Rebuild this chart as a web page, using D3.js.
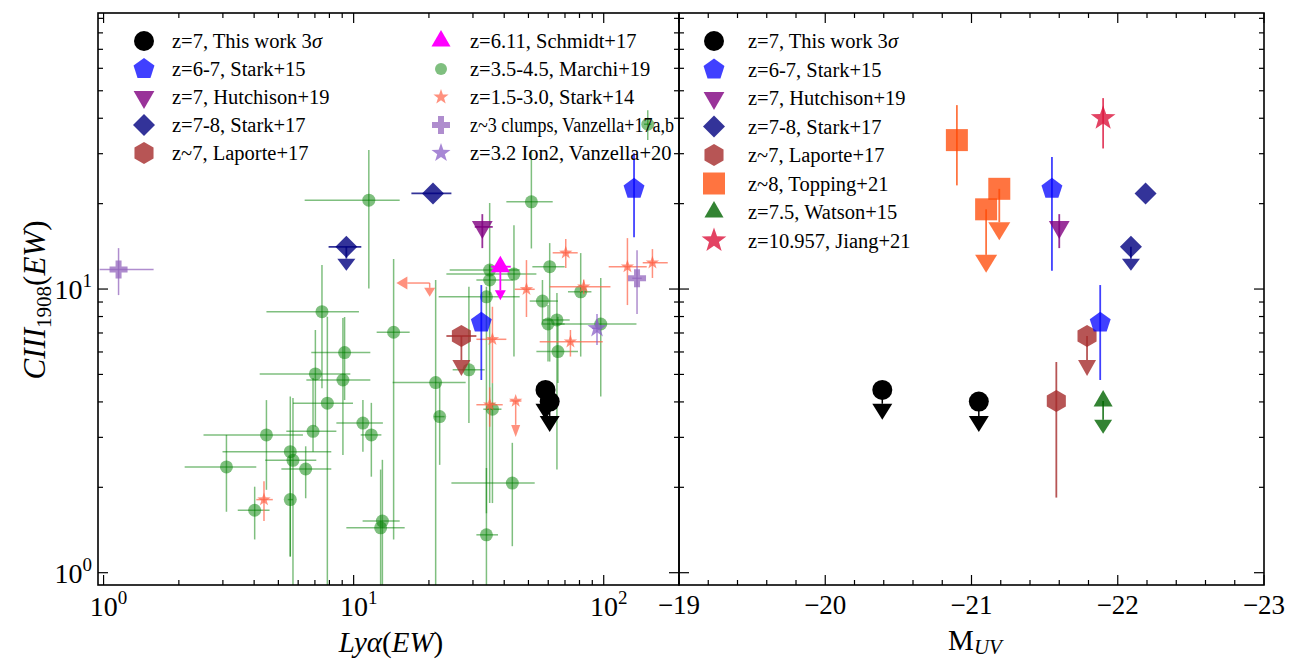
<!DOCTYPE html>
<html><head><meta charset="utf-8">
<script src="https://cdn.jsdelivr.net/npm/d3@7"></script>
<style>
body{margin:0;background:#fff}
svg{display:block}
text{font-family:"Liberation Serif","DejaVu Serif",serif;fill:#000}
</style>
</head><body>
<svg id="c" width="1289" height="659"></svg>
<script>
// ---------------- DATA ----------------
// axis ticks
const xTicksLeft = [1, 10, 100];
const xTickLabelsLeft = ["0", "1", "2"];          // exponents of 10
const yTicks = [1, 10];
const yTickLabels = ["0", "1"];
const xTicksRight = [-19, -20, -21, -22, -23];
const xTickLabelsRight = ["\u221219", "\u221220", "\u221221", "\u221222", "\u221223"];

// This work (3 sigma upper limits): Lya EW, M_UV, CIII EW, arrow end
const thisWorkLya = [58.5, 60.8];
const thisWorkMuv = [-20.39, -21.05];
const thisWorkCIII = [4.41, 4.01];
const thisWorkLim = [3.94, 3.57];

// Stark+15: [Lya, CIII, CIII_lo, CIII_hi], M_UV
const stark15 = [[132.2, 22.56, 15.24, 30.1], [32.4, 7.61, 4.78, 10.33]];
const stark15Muv = [-21.55, -21.88];
const stark15ErrR = [[11.6, 29.2], [4.78, 10.33]];

// Hutchison+19: [Lya, Lya_lo, Lya_hi, CIII, CIII_lo, CIII_hi]
const hutchison19 = [[32.7, 30.5, 36.0, 16.56, 13.94, 18.37]];
const hutchison19Muv = [-21.6];

// Stark+17: [Lya, Lya_lo, Lya_hi, CIII, limit]
const stark17 = [[20.76, 17.02, 24.6, 21.73, null], [9.35, 7.94, 10.73, 14.09, 12.8]];
const stark17Muv = [-22.19, -22.09];

// Laporte+17: [Lya, Lya_lo, Lya_hi, CIII, limit]
const laporte17 = [[26.97, 23.49, 30.96, 6.83, 5.62]];
const laporte17Muv = [-21.79];
// second Laporte object (M_UV only): [M_UV, CIII, lo, hi]
const laporte17b = [[-21.58, 4.03, 1.84, 5.53]];

// Schmidt+17: [Lya, Lya_lo, Lya_hi, CIII, limit]
const schmidt17 = [[38.6, 35.5, 42.5, 11.99, 9.9]];

// Marchi+19: [Lya, lo, hi, CIII, lo, hi]
const marchi19 = [
  [11.5, 6.37, 15.28, 20.57, 10.05, 30.9],
  [7.47, 4.48, 10.5, 8.32, 4.47, 12.15],
  [14.45, 12.36, 16.75, 7.04, 1.31, 12.76],
  [9.20, 6.77, 11.66, 5.97, 4.06, 7.97],
  [7.03, 4.21, 9.70, 5.02, 3.27, 7.17],
  [9.06, 6.47, 11.66, 4.78, 2.60, 7.9],
  [7.85, 5.72, 9.94, 3.96, 0.87, 7.99],
  [10.89, 8.53, 13.09, 3.37, 2.67, 4.06],
  [11.77, 10.67, 12.91, 3.06, 2.18, 3.97],
  [6.88, 5.38, 8.53, 3.15, 2.67, 4.86],
  [4.48, 2.51, 6.27, 3.06, 1.96, 4.06],
  [5.58, 2.99, 8.14, 2.67, 1.14, 4.18],
  [5.72, 4.43, 7.09, 2.49, 0.87, 4.13],
  [6.43, 5.14, 8.14, 2.32, 1.83, 2.79],
  [3.10, 2.11, 4.08, 2.36, 1.64, 3.06],
  [5.58, 5.45, 5.72, 1.81, 1.14, 2.57],
  [4.02, 3.44, 4.61, 1.66, 1.31, 2.01],
  [13.03, 10.86, 15.28, 1.52, 0.87, 2.5],
  [12.82, 9.35, 16.0, 1.44, 0.87, 2.31],
  [51.37, 40.8, 62.52, 20.3, 13.9, 30.9],
  [60.81, 51.84, 69.8, 11.99, 5.55, 14.52],
  [43.76, 23.49, 53.8, 11.29, 5.78, 16.8],
  [34.99, 24.21, 46.13, 11.66, 1.76, 20.1],
  [34.99, 30.96, 43.39, 10.76, 9.5, 12.15],
  [33.96, 21.88, 46.13, 9.39, 1.62, 10.19],
  [56.89, 50.58, 65.6, 9.07, 7.57, 10.76],
  [59.87, 56.33, 69.8, 7.53, 5.55, 8.78],
  [65.0, 57.02, 73.1, 7.78, 2.31, 9.68],
  [80.9, 71.95, 89.3, 9.78, 5.78, 13.39],
  [65.6, 53.8, 78.9, 6.02, 4.66, 7.99],
  [97.3, 64.7, 135.2, 7.53, 4.18, 10.94],
  [28.9, 24.89, 33.42, 5.19, 3.37, 10.19],
  [21.28, 14.32, 28.05, 4.68, 0.87, 10.76],
  [22.08, 21.0, 23.1, 3.55, 2.40, 4.66],
  [35.89, 33.0, 39.0, 3.77, 1.76, 4.66],
  [43.1, 24.6, 52.97, 2.07, 1.24, 2.87],
  [33.96, 30.96, 37.78, 1.36, 0.87, 2.34],
  [150, 145, 155, 38.1, 33.5, 42.7]
];

// Stark+14: [Lya, lo, hi, CIII, lo, hi]
const stark14 = [
  [70.5, 62.5, 78.7, 13.42, 11.86, 15.0],
  [124.4, 104.7, 148.6, 11.99, 8.78, 15.12],
  [156.6, 143.2, 180.3, 12.38, 10.94, 13.83],
  [83.2, 60.8, 106.4, 10.19, 9.6, 10.8],
  [49.1, 44.06, 52.97, 9.98, 7.97, 12.65],
  [35.89, 30.96, 40.8, 6.65, 4.66, 8.66],
  [73.6, 55.46, 99.1, 6.52, 5.78, 7.17],
  [34.99, 30.96, 39.45, 3.91, 3.27, 4.5],
  [4.38, 4.08, 4.75, 1.81, 1.52, 2.10]
];
// Stark+14 upper limit: [Lya, lo, hi, CIII, limit]
const stark14Lim = [[44.46, 42.07, 46.87, 4.03, 3.32]];
// Stark+14 double limit: [Lya, Lya_limit, CIII, CIII_limit]
const stark14Lim2 = [[20.14, 16.4, 10.5, 10.1]];

// Vanzella+17a,b: [Lya, lo, hi, CIII, lo, hi]
const vanzella17 = [[1.148, 0.964, 1.585, 11.73, 9.52, 13.94], [135.9, 130, 142, 10.91, 8.17, 13.71]];
// Vanzella+20
const vanzella20 = [[94.0, 90, 98, 7.27, 6.35, 8.17]];

// Topping+21: [M_UV, CIII, lo, hi, limit]
const topping21 = [[-20.90, 33.5, 23.2, 44.5, null], [-21.10, 19.1, null, null, 13.2], [-21.19, 22.56, null, null, 17.2]];
// Watson+15: [M_UV, CIII, limit]
const watson15 = [[-21.90, 4.03, 3.46]];
// Jiang+21: [M_UV, CIII, lo, hi]
const jiang21 = [[-21.90, 40.0, 31.3, 47.1]];

// legend labels
const legLeft1 = [["thiswork", "z=7, This work 3\u03c3"], ["stark15", "z=6-7, Stark+15"], ["hutch", "z=7, Hutchison+19"], ["stark17", "z=7-8, Stark+17"], ["laporte", "z~7, Laporte+17"]];
const legLeft2 = [["schmidt", "z=6.11, Schmidt+17"], ["marchi", "z=3.5-4.5, Marchi+19"], ["stark14", "z=1.5-3.0, Stark+14"], ["vanz17", "z~3 clumps, Vanzella+17a,b"], ["vanz20", "z=3.2 Ion2, Vanzella+20"]];
const legRight = [["thiswork", "z=7, This work 3\u03c3"], ["stark15", "z=6-7, Stark+15"], ["hutch", "z=7, Hutchison+19"], ["stark17", "z=7-8, Stark+17"], ["laporte", "z~7, Laporte+17"], ["topping", "z~8, Topping+21"], ["watson", "z=7.5, Watson+15"], ["jiang", "z=10.957, Jiang+21"]];

// ---------------- LAYOUT ----------------
const svg = d3.select("#c");
const PL = {x0: 98, x1: 679, y0: 13, y1: 585};
const PR = {x0: 679, x1: 1264, y0: 13, y1: 585};
const xL = d3.scaleLog().domain([0.95, 200]).range([PL.x0, PL.x1]);
const xR = d3.scaleLinear().domain([-19, -23]).range([PR.x0, PR.x1]);
const y = d3.scaleLog().domain([0.905, 94]).range([PL.y1, PL.y0]);

const defs = svg.append("defs");
defs.append("clipPath").attr("id", "clipL").append("rect")
  .attr("x", PL.x0).attr("y", PL.y0).attr("width", PL.x1 - PL.x0).attr("height", PL.y1 - PL.y0);
defs.append("clipPath").attr("id", "clipR").append("rect")
  .attr("x", PR.x0).attr("y", PR.y0).attr("width", PR.x1 - PR.x0).attr("height", PR.y1 - PR.y0);

// ---------------- SHAPES ----------------
function poly(n, r, rot) {
  const p = [];
  for (let i = 0; i < n; i++) { const a = rot + i * 2 * Math.PI / n; p.push([r * Math.cos(a), r * Math.sin(a)]); }
  return "M" + p.map(q => q[0].toFixed(2) + "," + q[1].toFixed(2)).join("L") + "Z";
}
function star(r, ri) {
  const p = [];
  for (let i = 0; i < 10; i++) { const a = -Math.PI / 2 + i * Math.PI / 5; const rr = i % 2 ? r * ri : r; p.push([rr * Math.cos(a), rr * Math.sin(a)]); }
  return "M" + p.map(q => q[0].toFixed(2) + "," + q[1].toFixed(2)).join("L") + "Z";
}
function shape(type, r) {
  switch (type) {
    case "circle": return d3.arc()({innerRadius: 0, outerRadius: r, startAngle: 0, endAngle: 2 * Math.PI});
    case "pentagon": return poly(5, r, -Math.PI / 2);
    case "hexagon": return poly(6, r, -Math.PI / 2);
    case "tri_up": return poly(3, r, -Math.PI / 2);
    case "tri_down": return poly(3, r, Math.PI / 2);
    case "diamond": return poly(4, r, -Math.PI / 2);
    case "square": return poly(4, r * Math.SQRT2, -Math.PI / 4);
    case "star": return star(r, 0.4);
    case "plus": { const a = r / 3; return `M${-a},${-r}H${a}V${-a}H${r}V${a}H${a}V${r}H${-a}V${a}H${-r}V${-a}H${-a}Z`; }
  }
}

const styles = {
  thiswork: {color: "#000000", op: 1, shape: "circle", r: 10, lw: 1.5},
  stark15: {color: "#0000ff", op: 0.75, shape: "pentagon", r: 11, lw: 1.8},
  hutch: {color: "#800080", op: 0.8, shape: "tri_down", r: 12, lw: 1.8},
  stark17: {color: "#000080", op: 0.8, shape: "diamond", r: 11, lw: 1.8},
  laporte: {color: "#a52a2a", op: 0.8, shape: "hexagon", r: 11, lw: 1.8},
  schmidt: {color: "#ff00ff", op: 1, shape: "tri_up", r: 11, lw: 1.8},
  marchi: {color: "#008000", op: 0.5, shape: "circle", r: 6.5, lw: 1.5},
  stark14: {color: "#ff6347", op: 0.7, shape: "star", r: 7, lw: 1.5},
  vanz17: {color: "#9467bd", op: 0.75, shape: "plus", r: 9, lw: 1.5},
  vanz20: {color: "#8a5fc7", op: 0.75, shape: "star", r: 10, lw: 1.5},
  topping: {color: "#ff4500", op: 0.75, shape: "square", r: 11, lw: 1.8},
  watson: {color: "#006400", op: 0.8, shape: "tri_up", r: 11, lw: 1.8},
  jiang: {color: "#dc143c", op: 0.8, shape: "star", r: 13, lw: 1.8}
};

function line(g, x1, y1, x2, y2, st) {
  g.append("line").attr("x1", x1).attr("y1", y1).attr("x2", x2).attr("y2", y2)
    .attr("stroke", st.color).attr("stroke-opacity", st.op).attr("stroke-width", st.lw);
}
function marker(g, cx, cy, st, rOverride) {
  g.append("path").attr("d", shape(st.shape, rOverride || st.r))
    .attr("transform", `translate(${cx},${cy})`)
    .attr("fill", st.color).attr("fill-opacity", st.op);
}
function caretDown(g, cx, yb, w, h, st) {
  g.append("path").attr("d", `M${cx - w / 2},${yb}L${cx + w / 2},${yb}L${cx},${yb + h}Z`)
    .attr("fill", st.color).attr("fill-opacity", st.op);
}
function caretLeft(g, xb, cy, w, h, st) {
  g.append("path").attr("d", `M${xb},${cy - w / 2}L${xb},${cy + w / 2}L${xb - h},${cy}Z`)
    .attr("fill", st.color).attr("fill-opacity", st.op);
}
function upperLimit(g, cx, cy, yb, st, w, h) {
  line(g, cx, cy, cx, yb, st);
  caretDown(g, cx, yb, w, h, st);
}

// ---------------- LEFT PANEL ----------------
const gL = svg.append("g").attr("clip-path", "url(#clipL)");

marchi19.forEach(d => {
  const st = styles.marchi;
  line(gL, xL(d[1]), y(d[3]), xL(d[2]), y(d[3]), st);
  line(gL, xL(d[0]), y(d[4]), xL(d[0]), y(d[5]), st);
  marker(gL, xL(d[0]), y(d[3]), st);
});
stark14.forEach(d => {
  const st = styles.stark14;
  line(gL, xL(d[1]), y(d[3]), xL(d[2]), y(d[3]), st);
  line(gL, xL(d[0]), y(d[4]), xL(d[0]), y(d[5]), st);
  marker(gL, xL(d[0]), y(d[3]), st);
});
stark14Lim.forEach(d => {
  const st = styles.stark14;
  line(gL, xL(d[1]), y(d[3]), xL(d[2]), y(d[3]), st);
  upperLimit(gL, xL(d[0]), y(d[3]), y(d[4]), st, 9, 12);
  marker(gL, xL(d[0]), y(d[3]), st);
});
stark14Lim2.forEach(d => {
  const st = styles.stark14;
  line(gL, xL(d[0]), y(d[2]), xL(d[1]), y(d[2]), st);
  caretLeft(gL, xL(d[1]), y(d[2]), 13, 11, st);
  upperLimit(gL, xL(d[0]), y(d[2]), y(d[3]), st, 11, 9);
});
vanzella17.forEach(d => {
  const st = styles.vanz17;
  line(gL, xL(d[1]), y(d[3]), xL(d[2]), y(d[3]), st);
  line(gL, xL(d[0]), y(d[4]), xL(d[0]), y(d[5]), st);
  marker(gL, xL(d[0]), y(d[3]), st);
});
vanzella20.forEach(d => {
  const st = styles.vanz20;
  line(gL, xL(d[1]), y(d[3]), xL(d[2]), y(d[3]), st);
  line(gL, xL(d[0]), y(d[4]), xL(d[0]), y(d[5]), st);
  marker(gL, xL(d[0]), y(d[3]), st);
});
laporte17.forEach(d => {
  const st = styles.laporte;
  line(gL, xL(d[1]), y(d[3]), xL(d[2]), y(d[3]), st);
  upperLimit(gL, xL(d[0]), y(d[3]), y(d[4]), st, 18, 16);
  marker(gL, xL(d[0]), y(d[3]), st);
});
stark17.forEach(d => {
  const st = styles.stark17;
  line(gL, xL(d[1]), y(d[3]), xL(d[2]), y(d[3]), st);
  if (d[4] != null) upperLimit(gL, xL(d[0]), y(d[3]), y(d[4]), st, 18, 12);
  marker(gL, xL(d[0]), y(d[3]), st);
});
stark15.forEach(d => {
  const st = styles.stark15;
  line(gL, xL(d[0]), y(d[2]), xL(d[0]), y(d[3]), st);
  marker(gL, xL(d[0]), y(d[1]), st);
});
hutchison19.forEach(d => {
  const st = styles.hutch;
  line(gL, xL(d[1]), y(d[3]), xL(d[2]), y(d[3]), st);
  line(gL, xL(d[0]), y(d[4]), xL(d[0]), y(d[5]), st);
  marker(gL, xL(d[0]), y(d[3]), st);
});
schmidt17.forEach(d => {
  const st = styles.schmidt;
  line(gL, xL(d[1]), y(d[3]), xL(d[2]), y(d[3]), st);
  upperLimit(gL, xL(d[0]), y(d[3]), y(d[4]), st, 11, 10);
  marker(gL, xL(d[0]), y(d[3]), st);
});
thisWorkLya.forEach((v, i) => {
  const st = styles.thiswork;
  upperLimit(gL, xL(v), y(thisWorkCIII[i]), y(thisWorkLim[i]), st, 20, 16);
  marker(gL, xL(v), y(thisWorkCIII[i]), st);
});

// ---------------- RIGHT PANEL ----------------
const gR = svg.append("g").attr("clip-path", "url(#clipR)");
laporte17b.forEach(d => {
  const st = styles.laporte;
  line(gR, xR(d[0]), y(d[2]), xR(d[0]), y(d[3]), st);
  marker(gR, xR(d[0]), y(d[1]), st);
});
laporte17.forEach((d, i) => {
  const st = styles.laporte;
  upperLimit(gR, xR(laporte17Muv[i]), y(d[3]), y(d[4]), st, 18, 16);
  marker(gR, xR(laporte17Muv[i]), y(d[3]), st);
});
topping21.forEach(d => {
  const st = styles.topping;
  if (d[2] != null) line(gR, xR(d[0]), y(d[2]), xR(d[0]), y(d[3]), st);
  if (d[4] != null) upperLimit(gR, xR(d[0]), y(d[1]), y(d[4]), st, 22, 18);
  marker(gR, xR(d[0]), y(d[1]), st);
});
stark15.forEach((d, i) => {
  const st = styles.stark15;
  line(gR, xR(stark15Muv[i]), y(stark15ErrR[i][0]), xR(stark15Muv[i]), y(stark15ErrR[i][1]), st);
  marker(gR, xR(stark15Muv[i]), y(d[1]), st);
});
hutchison19.forEach((d, i) => {
  const st = styles.hutch;
  line(gR, xR(hutchison19Muv[i]), y(d[4]), xR(hutchison19Muv[i]), y(d[5]), st);
  marker(gR, xR(hutchison19Muv[i]), y(d[3]), st);
});
stark17.forEach((d, i) => {
  const st = styles.stark17;
  if (d[4] != null) upperLimit(gR, xR(stark17Muv[i]), y(d[3]), y(d[4]), st, 18, 12);
  marker(gR, xR(stark17Muv[i]), y(d[3]), st);
});
watson15.forEach(d => {
  const st = styles.watson;
  upperLimit(gR, xR(d[0]), y(d[1]), y(d[2]), st, 18, 14);
  marker(gR, xR(d[0]), y(d[1]), st);
});
jiang21.forEach(d => {
  const st = styles.jiang;
  line(gR, xR(d[0]), y(d[2]), xR(d[0]), y(d[3]), st);
  marker(gR, xR(d[0]), y(d[1]), st);
});
thisWorkMuv.forEach((v, i) => {
  const st = styles.thiswork;
  upperLimit(gR, xR(v), y(thisWorkCIII[i]), y(thisWorkLim[i]), st, 20, 16);
  marker(gR, xR(v), y(thisWorkCIII[i]), st);
});

// ---------------- AXES ----------------
const ax = svg.append("g");
const MAJ = 10, MIN = 5;
function tick(x1, y1, x2, y2, w) {
  ax.append("line").attr("x1", x1).attr("y1", y1).attr("x2", x2).attr("y2", y2)
    .attr("stroke", "#000").attr("stroke-width", w || 1.2);
}
function logTicks(lo, hi) {
  const maj = [], min = [];
  for (let e = -1; e <= 3; e++) {
    for (let m = 1; m <= 9; m++) {
      const v = m * Math.pow(10, e);
      if (v < lo || v > hi) continue;
      (m === 1 ? maj : min).push(v);
    }
  }
  return {maj, min};
}
const yt = logTicks(y.domain()[0], y.domain()[1]);
[PL, PR].forEach(P => {
  yt.maj.forEach(v => { tick(P.x0, y(v), P.x0 + MAJ, y(v)); tick(P.x1, y(v), P.x1 - MAJ, y(v)); });
  yt.min.forEach(v => { tick(P.x0, y(v), P.x0 + MIN, y(v)); tick(P.x1, y(v), P.x1 - MIN, y(v)); });
});
const xtL = logTicks(xL.domain()[0], xL.domain()[1]);
xtL.maj.forEach(v => { tick(xL(v), PL.y1, xL(v), PL.y1 - MAJ); tick(xL(v), PL.y0, xL(v), PL.y0 + MAJ); });
xtL.min.forEach(v => { tick(xL(v), PL.y1, xL(v), PL.y1 - MIN); tick(xL(v), PL.y0, xL(v), PL.y0 + MIN); });
xR.ticks(4).forEach(v => { tick(xR(v), PR.y1, xR(v), PR.y1 - MAJ); tick(xR(v), PR.y0, xR(v), PR.y0 + MAJ); });
d3.range(-19, -23.0001, -0.2).forEach(v => {
  if (Math.abs(v - Math.round(v)) < 1e-6) return;
  tick(xR(v), PR.y1, xR(v), PR.y1 - MIN); tick(xR(v), PR.y0, xR(v), PR.y0 + MIN);
});
[PL, PR].forEach(P => {
  ax.append("rect").attr("x", P.x0).attr("y", P.y0).attr("width", P.x1 - P.x0).attr("height", P.y1 - P.y0)
    .attr("fill", "none").attr("stroke", "#000").attr("stroke-width", 1.6);
});

function powLabel(x, yb, exp, anchor) {
  const t = ax.append("text").attr("x", x).attr("y", yb).attr("font-size", 28).attr("text-anchor", anchor);
  t.append("tspan").text("10");
  t.append("tspan").attr("dy", -12).attr("font-size", 19).text(exp);
}
xTicksLeft.forEach((v, i) => powLabel(xL(v) + 5, 616, xTickLabelsLeft[i], "middle"));
yTicks.forEach((v, i) => powLabel(92, y(v) + 10, yTickLabels[i], "end"));
xTicksRight.forEach((v, i) => {
  ax.append("text").attr("x", xR(v)).attr("y", 614).attr("font-size", 27).attr("text-anchor", "middle").text(xTickLabelsRight[i]);
});

{
  const t = ax.append("text").attr("x", 391).attr("y", 652).attr("font-size", 29).attr("text-anchor", "middle");
  t.append("tspan").attr("font-style", "italic").text("Ly\u03b1");
  t.append("tspan").text("(");
  t.append("tspan").attr("font-style", "italic").text("EW");
  t.append("tspan").text(")");
}
{
  const t = ax.append("text").attr("x", 975).attr("y", 650).attr("font-size", 29).attr("text-anchor", "middle");
  t.append("tspan").text("M");
  t.append("tspan").attr("font-style", "italic").attr("font-size", 21).attr("dy", 4).text("UV");
}
{
  const t = ax.append("text").attr("transform", "translate(45,300) rotate(-90)").attr("font-size", 31).attr("text-anchor", "middle");
  t.append("tspan").attr("font-style", "italic").text("CIII");
  t.append("tspan").attr("font-size", 21).attr("dy", 6).text("1908");
  t.append("tspan").attr("dy", -6).text("(");
  t.append("tspan").attr("font-style", "italic").text("EW");
  t.append("tspan").text(")");
}

// ---------------- LEGENDS ----------------
const lg = svg.append("g");
function legendItem(mx, tx, yy, st, label, r, maxW) {
  marker(lg, mx, yy, st, r);
  const t = lg.append("text").attr("x", tx).attr("y", yy + 7).attr("font-size", 20.5);
  if (label.indexOf("3\u03c3") >= 0) {
    t.append("tspan").text(label.replace("3\u03c3", "3"));
    t.append("tspan").attr("font-style", "italic").text("\u03c3");
  } else t.text(label);
  if (maxW) {
    const w = t.node().getComputedTextLength();
    if (w > maxW) t.attr("textLength", maxW).attr("lengthAdjust", "spacingAndGlyphs");
  }
}
legLeft1.forEach((d, i) => legendItem(144, 172, 41 + i * 28, styles[d[0]], d[1]));
legLeft2.forEach((d, i) => legendItem(441, 470, 41 + i * 28, styles[d[0]], d[1], d[0] === "marchi" ? 6 : (d[0] === "stark14" ? 8 : null), 204));
legRight.forEach((d, i) => legendItem(714, 748, 41 + i * 28.5, styles[d[0]], d[1]));
</script>
</body></html>
